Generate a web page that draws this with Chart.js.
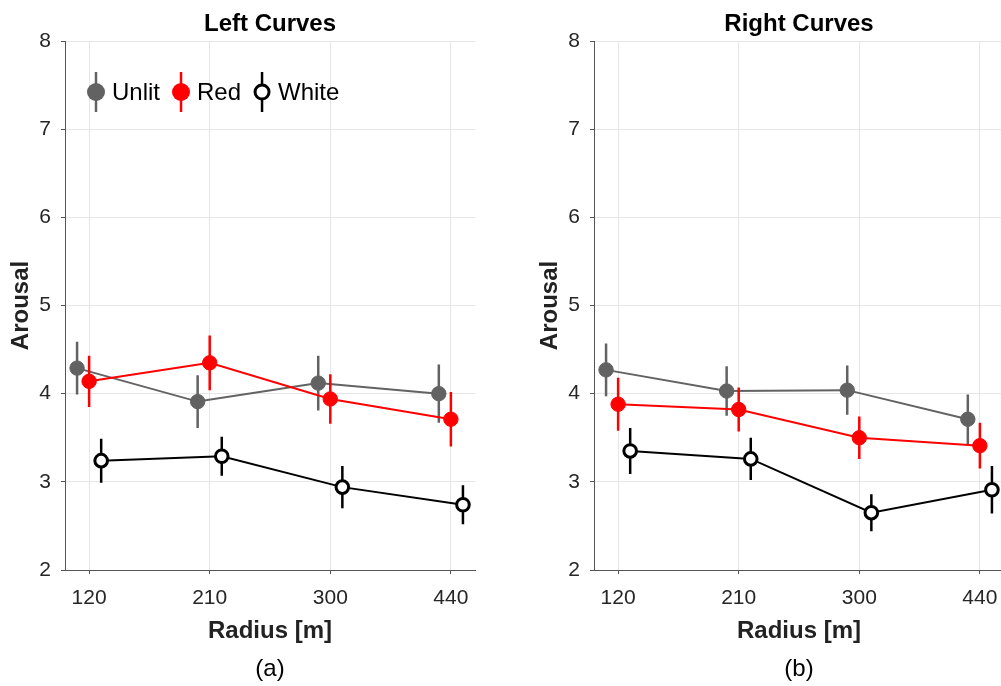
<!DOCTYPE html>
<html lang="en">
<head>
<meta charset="UTF-8">
<title>Arousal vs Radius</title>
<script src="https://cdn.jsdelivr.net/npm/chart.js"></script>
<style>
  html, body { margin: 0; padding: 0; background: #fff; overflow: hidden; }
  #wrap { position: relative; width: 1001px; height: 686px; overflow: hidden; }
  canvas { position: absolute; top: 0; }
  #leftChart { left: 0; }
  #rightChart { left: 529px; }
</style>
</head>
<body>
<div id="wrap">
  <canvas id="leftChart" width="480" height="686"></canvas>
  <canvas id="rightChart" width="480" height="686"></canvas>
</div>
<script>
  const radii = ['120', '210', '300', '440'];
  const seriesNames = ['Unlit', 'Red', 'White'];

  // left curves: means and half-length of error bars
  const leftUnlit = [4.29, 3.91, 4.12, 4.00];
  const leftUnlitErr = [0.30, 0.30, 0.31, 0.33];
  const leftRed = [4.14, 4.35, 3.94, 3.71];
  const leftRedErr = [0.29, 0.31, 0.28, 0.31];
  const leftWhite = [3.24, 3.29, 2.94, 2.74];
  const leftWhiteErr = [0.25, 0.22, 0.24, 0.22];

  // right curves
  const rightUnlit = [4.27, 4.03, 4.04, 3.71];
  const rightUnlitErr = [0.30, 0.28, 0.28, 0.28];
  const rightRed = [3.88, 3.82, 3.50, 3.41];
  const rightRedErr = [0.30, 0.25, 0.24, 0.26];
  const rightWhite = [3.35, 3.26, 2.65, 2.91];
  const rightWhiteErr = [0.26, 0.24, 0.21, 0.27];

  const FONT = '"Liberation Sans", Arial, sans-serif';
  const GRAY = '#626262';

  // vertical error bars, drawn just before their own dataset
  const errorBars = {
    id: 'errorBars',
    beforeDatasetDraw(chart, args) {
      const ds = chart.data.datasets[args.index];
      const y = chart.scales.y;
      const ctx = chart.ctx;
      ctx.save();
      ctx.strokeStyle = ds.borderColor;
      ctx.lineWidth = 2.5;
      ctx.beginPath();
      args.meta.data.forEach((pt, i) => {
        const v = ds.data[i].y, e = ds.errors[i];
        ctx.moveTo(pt.x, y.getPixelForValue(v + e));
        ctx.lineTo(pt.x, y.getPixelForValue(v - e));
      });
      ctx.stroke();
      ctx.restore();
    }
  };

  // legend inside the plot, marker with its error bar
  const markerLegend = {
    id: 'markerLegend',
    afterDraw(chart, args, opts) {
      if (!opts.display) return;
      const ctx = chart.ctx;
      const area = chart.chartArea;
      let x = area.left + 31;
      const y = area.top + 51;
      ctx.save();
      ctx.font = '24px ' + FONT;
      ctx.textBaseline = 'middle';
      ctx.textAlign = 'left';
      chart.data.datasets.forEach(ds => {
        const hollow = ds.pointBorderWidth > 1;
        ctx.strokeStyle = ds.borderColor;
        ctx.lineWidth = 2.5;
        ctx.beginPath();
        ctx.moveTo(x, y - 20);
        ctx.lineTo(x, y + 20);
        ctx.stroke();
        ctx.beginPath();
        ctx.arc(x, y, hollow ? 7 : 9, 0, Math.PI * 2);
        ctx.fillStyle = ds.pointBackgroundColor;
        ctx.fill();
        if (hollow) {
          ctx.lineWidth = ds.pointBorderWidth;
          ctx.strokeStyle = ds.pointBorderColor;
          ctx.stroke();
        }
        ctx.fillStyle = '#000';
        ctx.fillText(ds.label, x + 16, y + 1);
        x += 16 + ctx.measureText(ds.label).width + 21;
      });
      ctx.restore();
    }
  };

  function pts(values, shift) {
    return values.map((v, i) => ({ x: i + shift, y: v }));
  }

  function makePanel(id, titleText, subText, unlit, unlitErr, red, redErr, white, whiteErr, showLegend) {
    const ctx = document.getElementById(id).getContext('2d');
    return new Chart(ctx, {
      type: 'scatter',
      data: {
        datasets: [
          {
            label: seriesNames[0], data: pts(unlit, -0.1), errors: unlitErr, order: 3,
            showLine: true, borderColor: GRAY, borderWidth: 2,
            pointBackgroundColor: GRAY, pointBorderColor: GRAY, pointBorderWidth: 1, pointRadius: 7.2
          },
          {
            label: seriesNames[1], data: pts(red, 0), errors: redErr, order: 2,
            showLine: true, borderColor: '#ff0000', borderWidth: 2,
            pointBackgroundColor: '#ff0000', pointBorderColor: '#ff0000', pointBorderWidth: 1, pointRadius: 7.2
          },
          {
            label: seriesNames[2], data: pts(white, 0.1), errors: whiteErr, order: 1,
            showLine: true, borderColor: '#000', borderWidth: 2,
            pointBackgroundColor: '#fff', pointBorderColor: '#000', pointBorderWidth: 3, pointRadius: 6.3
          }
        ]
      },
      options: {
        responsive: false,
        animation: false,
        layout: { padding: { left: 0, right: 5, top: 0, bottom: 0 }, autoPadding: false },
        plugins: {
          legend: { display: false },
          tooltip: { enabled: false },
          markerLegend: { display: showLegend },
          title: {
            display: true, text: titleText, fullSize: false, color: '#000',
            font: { family: FONT, size: 24, weight: 'bold' },
            padding: { top: 10, bottom: 2.2 }
          },
          subtitle: {
            display: true, text: subText, position: 'bottom', fullSize: false, color: '#000',
            font: { family: FONT, size: 24, weight: 'normal' },
            padding: { top: 2, bottom: 2 }
          }
        },
        scales: {
          x: {
            type: 'linear', min: -0.2, max: 3.2,
            afterBuildTicks: s => { s.ticks = radii.map((r, i) => ({ value: i })); },
            afterFit: s => { s.height = 83.2; s.paddingLeft = 0; s.paddingRight = 0; },
            ticks: {
              callback: v => radii[v], autoSkip: false, maxRotation: 0,
              font: { family: FONT, size: 21 }, color: '#262626', padding: 12
            },
            grid: { color: '#e6e6e6', tickColor: '#555', tickLength: 4 },
            border: { color: '#555' },
            title: {
              display: true, text: 'Radius [m]', color: '#222',
              font: { family: FONT, size: 24, weight: 'bold' },
              padding: { top: 0, bottom: 7 }
            }
          },
          y: {
            min: 2, max: 8,
            afterFit: s => { s.width = 65; s.paddingTop = 0; s.paddingBottom = 0; },
            ticks: {
              stepSize: 1,
              font: { family: FONT, size: 21 }, color: '#262626', padding: 10
            },
            grid: { color: '#e6e6e6', tickColor: '#555', tickLength: 4 },
            border: { color: '#555' },
            title: {
              display: true, text: 'Arousal', color: '#222',
              font: { family: FONT, size: 24, weight: 'bold' },
              padding: { top: 7, bottom: 0 }
            }
          }
        }
      },
      plugins: [errorBars, markerLegend]
    });
  }

  makePanel('leftChart', 'Left Curves', '(a)',
    leftUnlit, leftUnlitErr, leftRed, leftRedErr, leftWhite, leftWhiteErr, true);
  makePanel('rightChart', 'Right Curves', '(b)',
    rightUnlit, rightUnlitErr, rightRed, rightRedErr, rightWhite, rightWhiteErr, false);
</script>
</body>
</html>
